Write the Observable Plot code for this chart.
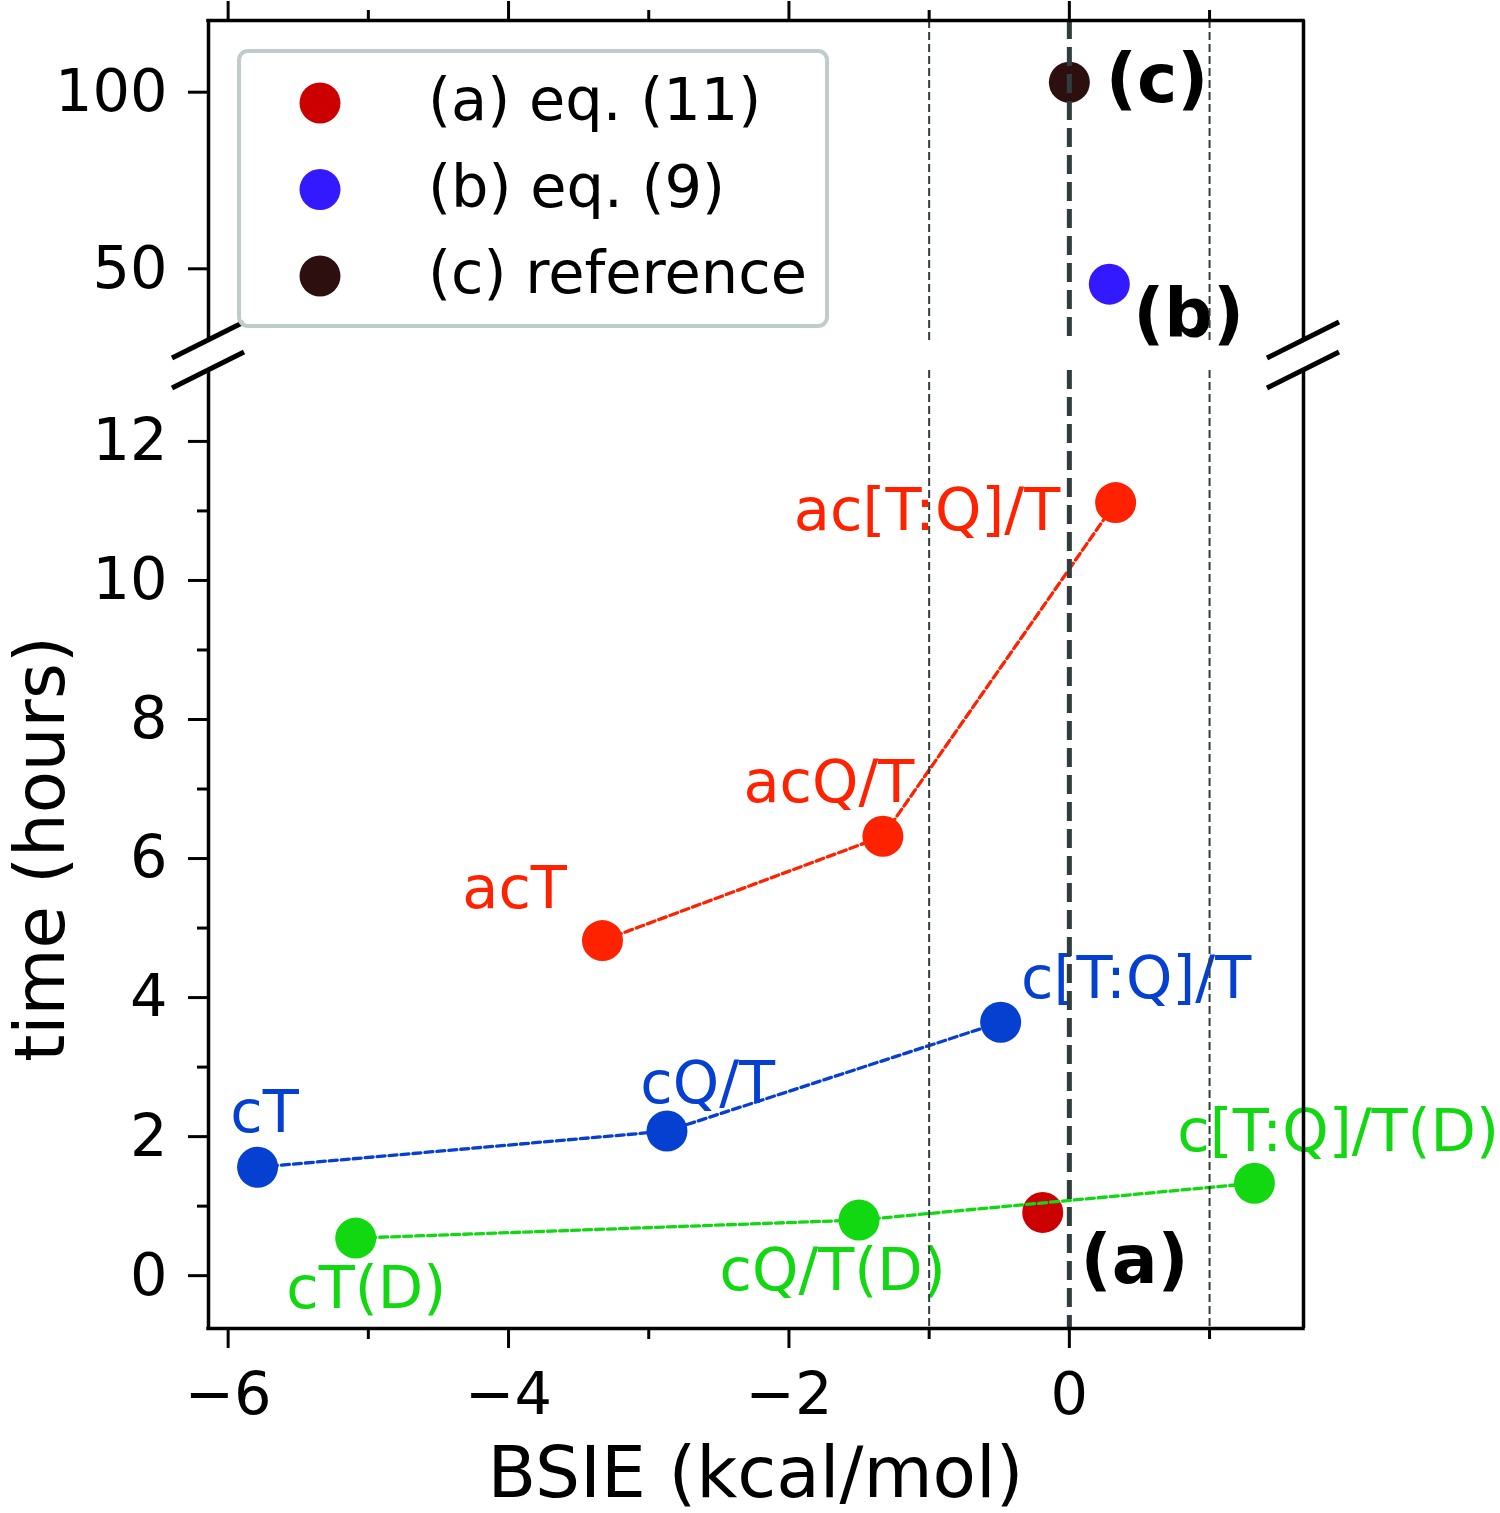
<!DOCTYPE html>
<html><head><meta charset="utf-8">
<script src="https://cdn.jsdelivr.net/npm/d3@7"></script>
<script src="https://cdn.jsdelivr.net/npm/@observablehq/plot@0.6"></script>
<style>
html,body{margin:0;padding:0;background:#fff;}
#chart{position:relative;width:1500px;height:1513px;font-family:"DejaVu Sans";}
#chart svg{position:absolute;left:0;overflow:visible;}
</style></head><body><div id="chart"></div>
<script>
// ---- data ----
const xDomain = [-6.14, 1.67];
const yTopDomain = [29.7, 120.3];
const yBottomDomain = [-0.76, 13.02];
const xMajorTicks = [-6, -4, -2, 0];
const xMinorTicks = [-5, -3, -1, 1];
const yTopTicks = [50, 100];
const yMajorTicks = [0, 2, 4, 6, 8, 10, 12];
const yMinorTicks = [1, 3, 5, 7, 9, 11];
const thinRefLines = [-1, 1];
const thickRefLines = [0];

const seriesKeys = ["ac", "c", "cD"];
const seriesColors = ["#ff2200", "#0640d0", "#12d812"];

const caseLabels = ["acT", "acQ/T", "ac[T:Q]/T", "cT", "cQ/T", "c[T:Q]/T", "cT(D)", "cQ/T(D)", "c[T:Q]/T(D)"];
const caseSeries = ["ac", "ac", "ac", "c", "c", "c", "cD", "cD", "cD"];
const caseBsie = [-3.33, -1.33, 0.33, -5.79, -2.87, -0.49, -5.09, -1.50, 1.32];
const caseHours = [4.82, 6.32, 11.12, 1.56, 2.08, 3.645, 0.54, 0.80, 1.33];
const caseLabelX = [-4.33, -2.325, -1.965, -5.985, -3.06, -0.345, -5.585, -2.495, 0.77];
const caseLabelY = [5.29, 6.81, 10.72, 2.06, 2.49, 4.0, -0.46, -0.20, 1.80];

const methodNames = ["(a) eq. (11)", "(b) eq. (9)", "(c) reference"];
const methodTags = ["(a)", "(b)", "(c)"];
const methodColors = ["#cc0000", "#3319ff", "#2d0f0f"];
const methodBsie = [-0.19, 0.285, 0.0];
const methodHours = [0.91, 45.66, 102.8];
const methodLabelX = [0.08, 0.455, 0.26];
const methodLabelY = [-0.10, 30.57, 97.1];

// ---- build ----
const colorOf = Object.fromEntries(seriesKeys.map((k, i) => [k, seriesColors[i]]));
const cases = caseLabels.map((label, i) => ({label, series: caseSeries[i], x: caseBsie[i], y: caseHours[i], lx: caseLabelX[i], ly: caseLabelY[i], color: colorOf[caseSeries[i]]}));
const methods = methodNames.map((name, i) => ({name, tag: methodTags[i], color: methodColors[i], x: methodBsie[i], y: methodHours[i], lx: methodLabelX[i], ly: methodLabelY[i]}));
const methodsTop = methods.filter(d => d.y > yBottomDomain[1]);
const methodsBottom = methods.filter(d => d.y <= yBottomDomain[1]);

const F = "DejaVu Sans";
const W = 1500, ML = 208, MR = 197;
const refColor = "#2f3d3d";
const frameW = 3.5, tickW = 3;
const R = 20.5;
const TF = 59;
const fmt = d3.format("d");
const style = {fontFamily: F, background: "transparent", overflow: "visible"};

function refRules() {
  return [
    Plot.ruleX(thinRefLines, {stroke: refColor, strokeWidth: 2, strokeDasharray: "8,4"}),
    Plot.ruleX(thickRefLines, {stroke: refColor, strokeWidth: 5, strokeDasharray: "19,8"})
  ];
}

const topPlot = Plot.plot({
  width: W, height: 340, marginLeft: ML, marginRight: MR, marginTop: 20, marginBottom: 0,
  x: {domain: xDomain}, y: {domain: yTopDomain},
  color: {type: "identity"},
  style,
  marks: [
    Plot.text(methodsTop, {x: "lx", y: "ly", text: "tag", fill: "#000", fontWeight: "bold", fontSize: 68, textAnchor: "start", lineAnchor: "bottom"}),
    Plot.dot(methodsTop, {x: "x", y: "y", r: R, fill: d => d.color}),
    ...refRules(),
    Plot.ruleY([yTopDomain[1]], {strokeWidth: frameW, strokeLinecap: "square"}),
    Plot.ruleX([xDomain[0], xDomain[1]], {strokeWidth: frameW}),
    Plot.axisY(yTopTicks, {tickSize: 20, tickPadding: 21, strokeWidth: tickW, fontSize: TF, tickFormat: fmt, label: null}),
    Plot.axisX(xMajorTicks, {anchor: "top", tickSize: 20, strokeWidth: tickW, tickFormat: () => "", label: null}),
    Plot.axisX(xMinorTicks, {anchor: "top", tickSize: 11, strokeWidth: tickW, tickFormat: () => "", label: null})
  ]
});

const BH = 1173, BMT = 30, BMB = 185;
const bottomPlot = Plot.plot({
  width: W, height: BH, marginLeft: ML, marginRight: MR, marginTop: BMT, marginBottom: BMB,
  x: {domain: xDomain}, y: {domain: yBottomDomain},
  color: {type: "identity"},
  style,
  marks: [
    Plot.text(cases, {x: "lx", y: "ly", text: "label", fill: d => d.color, fontSize: 59, textAnchor: "start", lineAnchor: "bottom"}),
    Plot.text(methodsBottom, {x: "lx", y: "ly", text: "tag", fill: "#000", fontWeight: "bold", fontSize: 68, textAnchor: "start", lineAnchor: "bottom"}),
    Plot.dot(methodsBottom, {x: "x", y: "y", r: R, fill: d => d.color}),
    Plot.line(cases, {x: "x", y: "y", z: "series", stroke: d => d.color, strokeWidth: 3.3, strokeDasharray: "8,4"}),
    Plot.dot(cases, {x: "x", y: "y", r: R, fill: d => d.color}),
    ...refRules(),
    Plot.ruleY([yBottomDomain[0]], {strokeWidth: frameW, strokeLinecap: "square"}),
    Plot.ruleX([xDomain[0], xDomain[1]], {strokeWidth: frameW}),
    Plot.axisY(yMajorTicks, {tickSize: 20, tickPadding: 21, strokeWidth: tickW, fontSize: TF, tickFormat: fmt, label: null}),
    Plot.axisY(yMinorTicks, {tickSize: 11, strokeWidth: tickW, tickFormat: () => "", label: null}),
    Plot.axisX(xMajorTicks, {anchor: "bottom", tickSize: 20, tickPadding: 24, strokeWidth: tickW, fontSize: TF, tickFormat: fmt, label: null}),
    Plot.axisX(xMinorTicks, {anchor: "bottom", tickSize: 11, strokeWidth: tickW, tickFormat: () => "", label: null})
  ]
});

const chart = document.getElementById("chart");
topPlot.style.top = "0px";
bottomPlot.style.top = "340px";
chart.appendChild(topPlot);
chart.appendChild(bottomPlot);

// break marks + axis titles on the lower panel
const bs = d3.select(bottomPlot);
const gb = bs.append("g").attr("stroke", "#000").attr("stroke-width", 5);
for (const x0 of [ML, W - MR]) {
  for (const yc of [0, BMT]) {
    gb.append("line").attr("x1", x0 - 36).attr("y1", yc + 18).attr("x2", x0 + 36).attr("y2", yc - 18);
  }
}
bs.append("text").attr("x", (ML + W - MR) / 2).attr("y", 1157).attr("text-anchor", "middle")
  .attr("font-size", 71).attr("fill", "#000").text("BSIE (kcal/mol)");
bs.append("text").attr("transform", `translate(64,${BMT + (BH - BMT - BMB) / 2}) rotate(-90)`)
  .attr("text-anchor", "middle").attr("font-size", 69).attr("fill", "#000").text("time (hours)");

// legend
const lg = d3.create("svg").attr("width", W).attr("height", 340).style("top", "0px").style("font-family", F);
lg.append("rect").attr("x", 239).attr("y", 51).attr("width", 588).attr("height", 275).attr("rx", 9)
  .attr("fill", "rgba(255,255,255,0.8)").attr("stroke", "#c0cccc").attr("stroke-width", 4);
methods.forEach((m, i) => {
  const cy = 103 + i * 86.5;
  lg.append("circle").attr("cx", 320).attr("cy", cy).attr("r", R).attr("fill", m.color);
  lg.append("text").attr("x", 428).attr("y", cy + 17).attr("font-size", 59).attr("fill", "#000").text(m.name);
});
chart.appendChild(lg.node());
</script></body></html>
